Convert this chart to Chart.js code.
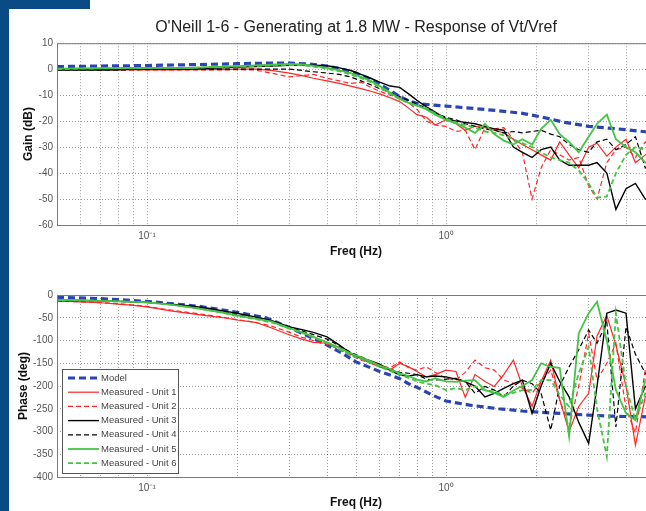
<!DOCTYPE html>
<html>
<head>
<meta charset="utf-8">
<script src="https://cdn.jsdelivr.net/npm/chart.js@4.4.1/dist/chart.umd.min.js"></script>
<style>
  html, body { margin: 0; padding: 0; background: #fff; }
  body { width: 646px; height: 511px; overflow: hidden; position: relative; }
  canvas { position: absolute; left: 0; }
  #gainChart { top: 0; }
  #phaseChart { top: 260px; }
  .frameLeft { position: absolute; left: 0; top: 0; width: 9px; height: 511px; background: #0a4a85; z-index: 2; }
  .frameTop { position: absolute; left: 0; top: 0; width: 90px; height: 9px; background: #0a4a85; z-index: 2; }
</style>
</head>
<body>
<div class="frameLeft"></div>
<div class="frameTop"></div>
<canvas id="gainChart" width="660" height="260"></canvas>
<canvas id="phaseChart" width="660" height="251"></canvas>
<script>
// Datos

// Frecuencias de las medidas (Hz)
const freqs = [0.05, 0.06, 0.07, 0.08, 0.09, 0.1, 0.12, 0.14, 0.16, 0.18,
  0.2, 0.23, 0.26, 0.3, 0.33, 0.36, 0.4, 0.44, 0.48, 0.52,
  0.56, 0.6, 0.65, 0.7, 0.75, 0.8, 0.86, 0.92, 1.0, 1.08,
  1.16, 1.25, 1.35, 1.45, 1.56, 1.68, 1.8, 1.94, 2.08, 2.24,
  2.4, 2.58, 2.78, 3.0, 3.2, 3.45, 3.7, 4.0, 4.3, 4.64, 5.0];

// Frecuencias del modelo (Hz)
const modelFreqs = [0.05, 0.07, 0.1, 0.15, 0.2, 0.25, 0.3, 0.35, 0.4, 0.45,
  0.5, 0.55, 0.6, 0.65, 0.7, 0.75, 0.8, 0.9, 1.0, 1.2,
  1.5, 1.8, 2.1, 2.5, 3.0, 3.5, 4.0, 5.0];

// Ganancia (dB)
const gainModel = [1.0, 1.2, 1.4, 1.8, 2.1, 2.3, 2.3, 2.0, 1.2, 0.0,
  -1.5, -3.5, -5.8, -8.2, -10.5, -12.2, -13.2, -13.8, -14.2, -15.0,
  -16.0, -17.0, -18.5, -20.5, -22.0, -22.7, -23.3, -24.5];
const gainUnit1 = [0, 0, -0.2, -0.2, -0.3, -0.3, -0.3, -0.2, -0.2, -0.2, 0,
  0, -0.5, -1.5, -2.5, -3.5, -4.5, -5.5, -6.5, -7.5, -8.5,
  -9.5, -11, -12.5, -15, -17.5, -18.5, -21.5, -19.5, -21, -23.5,
  -22, -22.5, -23.5, -24.5, -27, -29, -31, -33, -35, -28,
  -33, -38, -30, -28.5, -33.5, -30, -27, -36, -33, -30];
const gainUnit2 = [0, 0, -0.2, -0.3, -0.3, -0.3, -0.3, -0.3, -0.3, -0.3, -0.2,
  -0.3, -1.5, -3, -2.5, -2, -3.5, -4.5, -5.5, -5, -7,
  -8.5, -10, -11, -13, -15.5, -20, -21.5, -22, -24, -23.5,
  -31, -22.5, -23, -22.5, -27, -32, -50, -38, -31, -33,
  -35, -34, -45, -50, -36, -31, -30, -34, -28, -32];
const gainUnit3 = [-0.3, -0.3, -0.3, -0.2, 0, 0, 0, 0, 0.3, 0.5, 0.8,
  1, 1.2, 1.5, 1.5, 1.5, 1.3, 0.5, -0.5, -2, -3.5,
  -5, -6.5, -7, -9.5, -12, -14.5, -16.5, -19, -20, -20.5,
  -21, -22, -23, -23.5, -30, -32, -34, -31, -30, -35,
  -37, -37, -37, -36, -40, -54, -46, -44, -50, -48];
const gainUnit4 = [-0.3, -0.3, -0.3, -0.3, -0.2, 0, 0, 0, 0, 0, 0,
  0, 0, 0, -0.5, -1, -1.5, -2, -3, -4.5, -6,
  -7.5, -9, -10.5, -12, -13.5, -15, -17, -18.5, -19.5, -21,
  -22, -23, -23.5, -24.5, -24, -24.5, -24, -23.5, -25, -26,
  -29, -31, -32, -28, -27, -31, -29, -26, -38, -35];
const gainUnit5 = [0.2, 0.3, 0.3, 0.5, 0.5, 0.5, 0.5, 0.5, 0.8, 1.0, 1.2,
  1.5, 1.7, 2.0, 1.8, 1.3, 0.5, -0.5, -1.5, -3, -4.5,
  -6.5, -9, -11.5, -13, -14, -15.5, -17.5, -19.5, -20.8, -22.5,
  -24.5, -21, -25, -27.5, -29, -27, -29, -23, -19.5, -25,
  -28, -32, -26, -21, -17.5, -27, -30, -32, -36, -34];
const gainUnit6 = [0, 0.2, 0.3, 0.3, 0.3, 0.4, 0.5, 0.5, 0.7, 0.9, 1.0,
  1.2, 1.4, 1.6, 1.5, 1.0, 0.2, -0.8, -2, -3.5, -5,
  -7, -9.5, -11.5, -13, -14, -15, -17, -19, -20.5, -21.5,
  -22.5, -24, -24.5, -25.5, -27, -28.5, -30, -32, -34, -35,
  -36, -39, -44, -49.5, -49, -40, -33, -30, -31, -30];

// Fase (grados)
const phaseModel = [-5, -8, -14, -25, -38, -50, -72, -92, -110, -128,
  -147, -158, -168, -176, -184, -195, -203, -220, -233, -242,
  -250, -255, -258, -261, -264, -266, -267, -268];
const phaseUnit1 = [-13, -15, -17, -20, -23, -26, -35, -41, -46, -50, -55,
  -60, -72, -88, -97, -104, -106, -115, -130, -140, -150,
  -158, -165, -150, -158, -168, -180, -175, -165, -168, -225,
  -175, -190, -201, -175, -143, -200, -245, -190, -143, -230,
  -300, -245, -216, -90, -45, -110, -200, -330, -224, -200];
const phaseUnit2 = [-13, -15, -17, -19, -22, -25, -33, -39, -44, -49, -54,
  -60, -68, -82, -93, -100, -108, -120, -133, -143, -150,
  -155, -160, -147, -160, -165, -158, -170, -183, -187, -170,
  -143, -160, -165, -187, -194, -205, -216, -190, -165, -230,
  -290, -200, -84, -187, -150, -106, -250, -303, -165, -220];
const phaseUnit3 = [-12, -12, -13, -14, -15, -16, -20, -24, -29, -35, -40,
  -48, -56, -70, -76, -82, -92, -110, -128, -138, -145,
  -152, -165, -176, -178, -175, -180, -178, -180, -185, -191,
  -200, -224, -216, -205, -195, -187, -260, -200, -150, -190,
  -224, -280, -326, -200, -40, -33, -40, -250, -201, -220];
const phaseUnit4 = [-12, -13, -14, -14, -15, -16, -20, -26, -31, -37, -43,
  -51, -58, -71, -79, -87, -97, -112, -126, -136, -146,
  -155, -163, -170, -172, -175, -185, -187, -185, -183, -190,
  -216, -201, -209, -224, -200, -187, -195, -216, -297, -200,
  -158, -120, -77, -106, -60, -290, -70, -130, -172, -200];
const phaseUnit5 = [-11, -12, -13, -14, -15, -16, -21, -27, -33, -39, -45,
  -52, -58, -73, -82, -92, -104, -116, -128, -137, -146,
  -155, -163, -172, -178, -186, -190, -183, -190, -191, -188,
  -187, -209, -215, -224, -210, -200, -187, -150, -158, -160,
  -311, -84, -40, -15, -100, -209, -260, -275, -187, -200];
const phaseUnit6 = [-11, -12, -13, -14, -15, -16, -21, -27, -33, -39, -46,
  -53, -60, -74, -83, -93, -106, -120, -132, -141, -149,
  -158, -167, -175, -182, -190, -195, -198, -209, -205, -209,
  -201, -209, -212, -220, -215, -209, -209, -187, -187, -220,
  -245, -172, -114, -250, -355, -40, -200, -275, -216, -230];

// Etiquetas y marcas de los ejes
const seriesLabels = ['Model', 'Measured - Unit 1', 'Measured - Unit 2', 'Measured - Unit 3',
  'Measured - Unit 4', 'Measured - Unit 5', 'Measured - Unit 6'];
const xTickValues = [0.05, 0.06, 0.07, 0.08, 0.09, 0.1, 0.2, 0.3, 0.4, 0.5,
  0.6, 0.7, 0.8, 0.9, 1, 2, 3, 4, 5];
const xTickLabels = { 0.1: '10\u207B\u00B9', 1: '10\u2070' };

// Estilos de cada serie (mismo orden que seriesLabels)
const seriesStyles = [
  { color: '#2a44b6', dash: [7, 4], width: 3.2, order: 10 },
  { color: '#ff2626', dash: [], width: 1.2, order: 6 },
  { color: '#ff2626', dash: [5, 3], width: 1.2, order: 5 },
  { color: '#000000', dash: [], width: 1.4, order: 4 },
  { color: '#000000', dash: [5, 3], width: 1.2, order: 3 },
  { color: '#44c444', dash: [], width: 1.8, order: 2 },
  { color: '#44c444', dash: [5, 3], width: 1.8, order: 1 }
];

Chart.defaults.font.family = "'Liberation Sans', Arial, sans-serif";
Chart.defaults.animation = false;

const toPoints = (xs, ys) => xs.map((x, i) => ({ x: x, y: ys[i] }));

const buildDatasets = (model, units) => {
  const all = [toPoints(modelFreqs, model)].concat(units.map(u => toPoints(freqs, u)));
  return all.map((points, i) => ({
    label: seriesLabels[i],
    data: points,
    borderColor: seriesStyles[i].color,
    backgroundColor: seriesStyles[i].color,
    borderDash: seriesStyles[i].dash,
    borderWidth: seriesStyles[i].width,
    order: seriesStyles[i].order,
    pointRadius: 0,
    tension: 0,
    fill: false
  }));
};

// Marco gris alrededor del área de dibujo
const plotFrame = {
  id: 'plotFrame',
  afterDraw(chart) {
    const { ctx, chartArea } = chart;
    ctx.save();
    ctx.strokeStyle = '#7a7a7a';
    ctx.lineWidth = 1;
    ctx.strokeRect(chartArea.left + 0.5, chartArea.top + 0.5,
      chartArea.right - chartArea.left, chartArea.bottom - chartArea.top);
    ctx.restore();
  }
};

// Leyenda dentro del área (abajo a la izquierda)
const insideLegend = {
  id: 'insideLegend',
  afterDraw(chart, args, opts) {
    if (!opts.display) return;
    const { ctx, chartArea } = chart;
    const sets = chart.data.datasets;
    const rowH = 14.2;
    const boxW = 116;
    const boxH = 104;
    const x0 = chartArea.left + 5;
    const y0 = chartArea.bottom - 4 - boxH;
    ctx.save();
    ctx.fillStyle = '#ffffff';
    ctx.fillRect(x0, y0, boxW, boxH);
    ctx.strokeStyle = '#555555';
    ctx.lineWidth = 1;
    ctx.strokeRect(x0 + 0.5, y0 + 0.5, boxW, boxH);
    ctx.font = "9.5px 'Liberation Sans', Arial, sans-serif";
    ctx.textBaseline = 'middle';
    sets.forEach((ds, i) => {
      const y = y0 + 9 + i * rowH;
      ctx.beginPath();
      ctx.setLineDash(ds.borderDash);
      ctx.strokeStyle = ds.borderColor;
      ctx.lineWidth = ds.borderWidth;
      ctx.moveTo(x0 + 6, y);
      ctx.lineTo(x0 + 37, y);
      ctx.stroke();
      ctx.setLineDash([]);
      ctx.fillStyle = '#444444';
      ctx.fillText(ds.label, x0 + 39, y);
    });
    ctx.restore();
  }
};

const gridOpts = { color: 'rgba(0,0,0,0.38)', lineWidth: 1, drawTicks: false };
const borderOpts = { display: false, dash: [1, 2] };
const tickFont = { size: 10 };
const titleFont = { size: 12, weight: 'bold' };

const xAxis = (height) => ({
  type: 'logarithmic',
  min: 0.05,
  max: 5,
  grid: gridOpts,
  border: borderOpts,
  afterBuildTicks: (axis) => { axis.ticks = xTickValues.map(v => ({ value: v })); },
  afterFit: (axis) => { axis.height = height; },
  ticks: {
    autoSkip: false,
    maxRotation: 0,
    padding: 5,
    color: '#555555',
    font: tickFont,
    callback: (v) => xTickLabels[v] || ''
  },
  title: { display: true, text: 'Freq (Hz)', color: '#111111', font: titleFont, padding: { top: 0, bottom: 1 } }
});

const yAxis = (min, max, step, label, padTop) => ({
  min: min,
  max: max,
  grid: gridOpts,
  border: borderOpts,
  afterFit: (axis) => { axis.width = 57; },
  ticks: { stepSize: step, padding: 4, color: '#555555', font: tickFont },
  title: { display: true, text: label, color: '#111111', font: titleFont, padding: { top: padTop, bottom: 0 } }
});

// Gráfico de ganancia
new Chart(document.querySelector('#gainChart'), {
  type: 'line',
  data: { datasets: buildDatasets(gainModel, [gainUnit1, gainUnit2, gainUnit3, gainUnit4, gainUnit5, gainUnit6]) },
  options: {
    responsive: false,
    layout: { padding: { top: 18, right: 4, left: 0, bottom: 0 } },
    scales: {
      x: xAxis(35),
      y: yAxis(-60, 10, 10, 'Gain (dB)', 21)
    },
    plugins: {
      legend: { display: false },
      tooltip: { enabled: false },
      insideLegend: { display: false },
      title: {
        display: true,
        fullSize: false,
        text: "O'Neill 1-6 - Generating at 1.8 MW - Response of Vt/Vref",
        color: '#222222',
        font: { size: 16, weight: 'normal' },
        padding: { top: 0, bottom: 6 }
      }
    }
  },
  plugins: [plotFrame, insideLegend]
});

// Gráfico de fase
new Chart(document.querySelector('#phaseChart'), {
  type: 'line',
  data: { datasets: buildDatasets(phaseModel, [phaseUnit1, phaseUnit2, phaseUnit3, phaseUnit4, phaseUnit5, phaseUnit6]) },
  options: {
    responsive: false,
    layout: { padding: { top: 35, right: 4, left: 0, bottom: 0 } },
    scales: {
      x: xAxis(34),
      y: yAxis(-400, 0, 50, 'Phase (deg)', 16)
    },
    plugins: {
      legend: { display: false },
      tooltip: { enabled: false },
      insideLegend: { display: true },
      title: { display: false }
    }
  },
  plugins: [plotFrame, insideLegend]
});
</script>
</body>
</html>
